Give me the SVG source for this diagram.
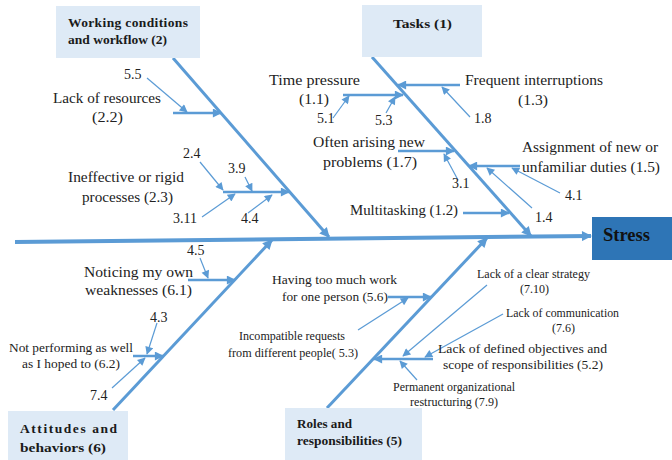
<svg xmlns="http://www.w3.org/2000/svg" width="672" height="460" viewBox="0 0 672 460">
<defs>
<style>
.cat{fill:#DEEAF6}
.ct{font-family:'Liberation Serif','DejaVu Serif','Times New Roman',Times,serif;font-weight:bold;font-size:13.5px;fill:#1a1a1a}
.t{font-family:'Liberation Serif','DejaVu Serif','Times New Roman',Times,serif;font-size:14px;fill:#222}
.s{font-family:'Liberation Serif','DejaVu Serif','Times New Roman',Times,serif;font-size:12.5px;fill:#222}
.n{font-family:'Liberation Serif','DejaVu Serif','Times New Roman',Times,serif;font-size:14px;fill:#222}
.st{font-family:'Liberation Serif','DejaVu Serif','Times New Roman',Times,serif;font-weight:bold;font-size:19px;fill:#111}
.bone{stroke:#5B9BD5;stroke-width:3;fill:none}
.spine{stroke:#5B9BD5;stroke-width:4;fill:none}
.sub{stroke:#5B9BD5;stroke-width:2.5;fill:none}
.thin{stroke:#5B9BD5;stroke-width:1.2;fill:none}
</style>
<marker id="ahB" viewBox="0 0 10 10" refX="9" refY="5" markerWidth="13" markerHeight="10" markerUnits="userSpaceOnUse" orient="auto"><path d="M0,0 L10,5 L0,10 z" fill="#5B9BD5"/></marker>
<marker id="ahS" viewBox="0 0 10 10" refX="9" refY="5" markerWidth="11" markerHeight="9" markerUnits="userSpaceOnUse" orient="auto"><path d="M0,0 L10,5 L0,10 z" fill="#5B9BD5"/></marker>
<marker id="ahT" viewBox="0 0 10 10" refX="9" refY="5" markerWidth="10" markerHeight="8" markerUnits="userSpaceOnUse" orient="auto"><path d="M0,0 L10,5 L0,10 z" fill="#5B9BD5"/></marker>
</defs>
<rect width="672" height="460" fill="#ffffff"/>

<g id="connectors">
<line class="spine" x1="15" y1="242" x2="591" y2="236" marker-end="url(#ahB)"/>
<line class="bone" x1="173" y1="58" x2="329" y2="237" marker-end="url(#ahB)"/>
<line class="bone" x1="372" y1="57" x2="531" y2="236" marker-end="url(#ahB)"/>
<line class="bone" x1="113" y1="410" x2="272" y2="240" marker-end="url(#ahB)"/>
<line class="bone" x1="327" y1="408" x2="487" y2="238" marker-end="url(#ahB)"/>

<line class="sub" x1="173" y1="113" x2="221" y2="113" marker-end="url(#ahS)"/>
<line class="sub" x1="223" y1="192" x2="289" y2="192" marker-end="url(#ahS)"/>
<line class="sub" x1="343" y1="95" x2="403" y2="95" marker-end="url(#ahS)"/>
<line class="sub" x1="460" y1="85" x2="398" y2="85" marker-end="url(#ahS)"/>
<line class="sub" x1="398" y1="151" x2="454" y2="151" marker-end="url(#ahS)"/>
<line class="sub" x1="520" y1="166" x2="469" y2="166" marker-end="url(#ahS)"/>
<line class="sub" x1="463" y1="213" x2="509" y2="213" marker-end="url(#ahS)"/>
<line class="sub" x1="188" y1="280" x2="235" y2="280" marker-end="url(#ahS)"/>
<line class="sub" x1="133" y1="356" x2="163" y2="356" marker-end="url(#ahS)"/>
<line class="sub" x1="388" y1="297" x2="431" y2="297" marker-end="url(#ahS)"/>
<line class="sub" x1="433" y1="359" x2="374" y2="359" marker-end="url(#ahS)"/>

<line class="thin" x1="147" y1="78" x2="187" y2="112" marker-end="url(#ahT)"/>
<line class="thin" x1="200" y1="162" x2="223" y2="190" marker-end="url(#ahT)"/>
<line class="thin" x1="245" y1="177" x2="252" y2="191" marker-end="url(#ahT)"/>
<line class="thin" x1="202" y1="217" x2="235" y2="194" marker-end="url(#ahT)"/>
<line class="thin" x1="248" y1="213" x2="272" y2="195" marker-end="url(#ahT)"/>
<line class="thin" x1="333" y1="118" x2="349" y2="96" marker-end="url(#ahT)"/>
<line class="thin" x1="386" y1="113" x2="395" y2="97" marker-end="url(#ahT)"/>
<line class="thin" x1="470" y1="117" x2="442" y2="87" marker-end="url(#ahT)"/>
<line class="thin" x1="458" y1="180" x2="444" y2="154" marker-end="url(#ahT)"/>
<line class="thin" x1="560" y1="193" x2="512" y2="168" marker-end="url(#ahT)"/>
<line class="thin" x1="532" y1="208" x2="487" y2="168" marker-end="url(#ahT)"/>
<line class="thin" x1="200" y1="258" x2="208" y2="278" marker-end="url(#ahT)"/>
<line class="thin" x1="157" y1="323" x2="147" y2="354" marker-end="url(#ahT)"/>
<line class="thin" x1="112" y1="388" x2="145" y2="358" marker-end="url(#ahT)"/>
<line class="thin" x1="358" y1="330" x2="408" y2="298" marker-end="url(#ahT)"/>
<line class="thin" x1="487" y1="285" x2="403" y2="356" marker-end="url(#ahT)"/>
<line class="thin" x1="503" y1="314" x2="425" y2="357" marker-end="url(#ahT)"/>
<line class="thin" x1="417" y1="380" x2="400" y2="361" marker-end="url(#ahT)"/>
</g>

<g id="cat-working">
<rect class="cat" x="56" y="6" width="144" height="52"/>
<text class="ct" x="68" y="27" textLength="120" lengthAdjust="spacing">Working   conditions</text>
<text class="ct" x="68" y="44" textLength="99" lengthAdjust="spacingAndGlyphs">and workflow (2)</text>
</g>
<g id="cat-tasks">
<rect class="cat" x="362" y="5" width="120" height="52"/>
<text class="ct" x="393" y="28" textLength="59" lengthAdjust="spacingAndGlyphs">Tasks (1)</text>
</g>
<g id="cat-attitudes">
<rect class="cat" x="8" y="411" width="120" height="49"/>
<text class="ct" x="20" y="433" textLength="97" lengthAdjust="spacing">Attitudes   and</text>
<text class="ct" x="20" y="452" textLength="86" lengthAdjust="spacingAndGlyphs">behaviors (6)</text>
</g>
<g id="cat-roles">
<rect class="cat" x="285" y="408" width="137" height="52"/>
<text class="ct" x="297" y="428" textLength="55" lengthAdjust="spacingAndGlyphs">Roles and</text>
<text class="ct" x="297" y="445" textLength="105" lengthAdjust="spacingAndGlyphs">responsibilities (5)</text>
</g>
<g id="stress">
<rect x="592" y="217" width="80" height="43" fill="#2E75B6"/>
<text class="st" x="603" y="241" textLength="47" lengthAdjust="spacingAndGlyphs">Stress</text>
</g>

<g id="c2-2">
<text class="t" x="53" y="103" textLength="108" lengthAdjust="spacingAndGlyphs">Lack of resources</text>
<text class="t" x="92" y="122" textLength="31" lengthAdjust="spacingAndGlyphs">(2.2)</text>
</g>
<g id="c2-3">
<text class="t" x="68" y="182" textLength="116" lengthAdjust="spacingAndGlyphs">Ineffective or rigid</text>
<text class="t" x="82" y="202" textLength="91" lengthAdjust="spacingAndGlyphs">processes (2.3)</text>
</g>
<g id="c1-1">
<text class="t" x="269" y="85" textLength="91" lengthAdjust="spacingAndGlyphs">Time pressure</text>
<text class="t" x="299" y="104" textLength="30" lengthAdjust="spacingAndGlyphs">(1.1)</text>
</g>
<g id="c1-3">
<text class="t" x="465" y="85" textLength="138" lengthAdjust="spacingAndGlyphs">Frequent interruptions</text>
<text class="t" x="518" y="105" textLength="30" lengthAdjust="spacingAndGlyphs">(1.3)</text>
</g>
<g id="c1-7">
<text class="t" x="313" y="147" textLength="112" lengthAdjust="spacingAndGlyphs">Often arising new</text>
<text class="t" x="323" y="167" textLength="94" lengthAdjust="spacingAndGlyphs">problems (1.7)</text>
</g>
<g id="c1-5">
<text class="t" x="522" y="152" textLength="136" lengthAdjust="spacingAndGlyphs">Assignment of new or</text>
<text class="t" x="522" y="172" textLength="138" lengthAdjust="spacingAndGlyphs">unfamiliar duties (1.5)</text>
</g>
<g id="c1-2">
<text class="t" x="350" y="215" textLength="108" lengthAdjust="spacingAndGlyphs">Multitasking (1.2)</text>
</g>
<g id="c6-1">
<text class="t" x="84" y="277" textLength="109" lengthAdjust="spacingAndGlyphs">Noticing my own</text>
<text class="t" x="85" y="295" textLength="107" lengthAdjust="spacingAndGlyphs">weaknesses (6.1)</text>
</g>
<g id="c6-2">
<text class="s" x="9" y="352" textLength="124" lengthAdjust="spacingAndGlyphs">Not performing as well</text>
<text class="s" x="22" y="368" textLength="98" lengthAdjust="spacingAndGlyphs">as I hoped to (6.2)</text>
</g>
<g id="c5-6">
<text class="s" x="272" y="284" textLength="125" lengthAdjust="spacingAndGlyphs">Having too much work</text>
<text class="s" x="282" y="301" textLength="106" lengthAdjust="spacingAndGlyphs">for one person (5.6)</text>
</g>
<g id="c5-3">
<text class="s" x="239" y="340" textLength="106" lengthAdjust="spacingAndGlyphs">Incompatible requests</text>
<text class="s" x="228" y="357" textLength="130" lengthAdjust="spacingAndGlyphs">from different people( 5.3)</text>
</g>
<g id="c7-10">
<text class="s" x="477" y="278" textLength="113" lengthAdjust="spacingAndGlyphs">Lack of a clear strategy</text>
<text class="s" x="520" y="293" textLength="29" lengthAdjust="spacingAndGlyphs">(7.10)</text>
</g>
<g id="c7-6">
<text class="s" x="506" y="317" textLength="113" lengthAdjust="spacingAndGlyphs">Lack of communication</text>
<text class="s" x="552" y="332" textLength="23" lengthAdjust="spacingAndGlyphs">(7.6)</text>
</g>
<g id="c5-2">
<text class="s" x="438" y="353" textLength="169" lengthAdjust="spacingAndGlyphs">Lack of defined objectives and</text>
<text class="s" x="443" y="369" textLength="160" lengthAdjust="spacingAndGlyphs">scope of responsibilities  (5.2)</text>
</g>
<g id="c7-9">
<text class="s" x="393" y="391" textLength="122" lengthAdjust="spacingAndGlyphs">Permanent organizational</text>
<text class="s" x="410" y="406" textLength="88" lengthAdjust="spacingAndGlyphs">restructuring (7.9)</text>
</g>

<g id="numbers">
<text class="n" x="124" y="79">5.5</text>
<text class="n" x="183" y="158">2.4</text>
<text class="n" x="228" y="173">3.9</text>
<text class="n" x="173" y="223">3.11</text>
<text class="n" x="241" y="223">4.4</text>
<text class="n" x="317" y="123">5.1</text>
<text class="n" x="375" y="125">5.3</text>
<text class="n" x="474" y="123">1.8</text>
<text class="n" x="452" y="188">3.1</text>
<text class="n" x="565" y="200">4.1</text>
<text class="n" x="535" y="222">1.4</text>
<text class="n" x="187" y="255">4.5</text>
<text class="n" x="150" y="322">4.3</text>
<text class="n" x="90" y="400">7.4</text>
</g>
</svg>
